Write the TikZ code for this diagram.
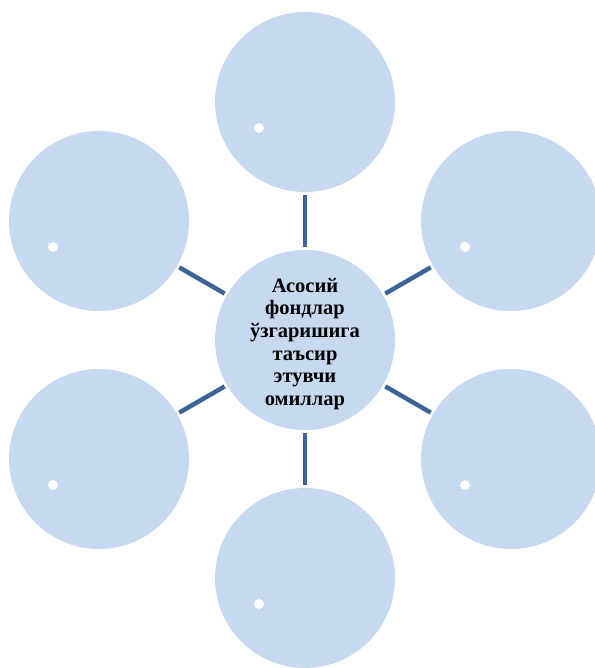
\documentclass[tikz,border=0pt]{standalone}
\usepackage{fontspec}
\setmainfont{Liberation Serif}
\usetikzlibrary{positioning,calc}
\definecolor{circfill}{HTML}{C6D9F0}
\definecolor{spokeblue}{HTML}{3C6496}

\begin{document}
\begin{tikzpicture}[x=1pt, y=1pt, semithick]
	\tikzstyle{factor}=[circle, fill=circfill, minimum size=180pt, inner sep=0pt]
	\tikzstyle{spoke}=[draw=spokeblue, line width=4.5pt, shorten <=2.5pt, shorten >=2.5pt]
	\tikzstyle{dot}=[circle, fill=white, minimum size=10pt, inner sep=0pt]
	\useasboundingbox (0,0) rectangle (594,668);
	\node[factor] (C) at (305,328) {};
	\node[align=center, font=\fontsize{20.5}{22.6}\selectfont\bfseries] (Ctext) at ($(C)+(0,-4)$)
		{Асосий\\фондлар\\ўзгаришига\\таъсир\\этувчи\\омиллар};
	\node[factor] (T)  at (305,566) {};
	\node[factor] (TR) at (511,447) {};
	\node[factor] (BR) at (511,209) {};
	\node[factor] (B)  at (305,90)  {};
	\node[factor] (BL) at (99,209)  {};
	\node[factor] (TL) at (99,447)  {};

	% empty bullets
	\foreach \n in {T,TR,BR,B,BL,TL}
		\node[dot] (\n dot) at ($(\n)+(-46,-26)$) {};

	\path
	(C) edge[spoke] (T)
	(C) edge[spoke] (TR)
	(C) edge[spoke] (BR)
	(C) edge[spoke] (B)
	(C) edge[spoke] (BL)
	(C) edge[spoke] (TL);
\end{tikzpicture}
\end{document}
